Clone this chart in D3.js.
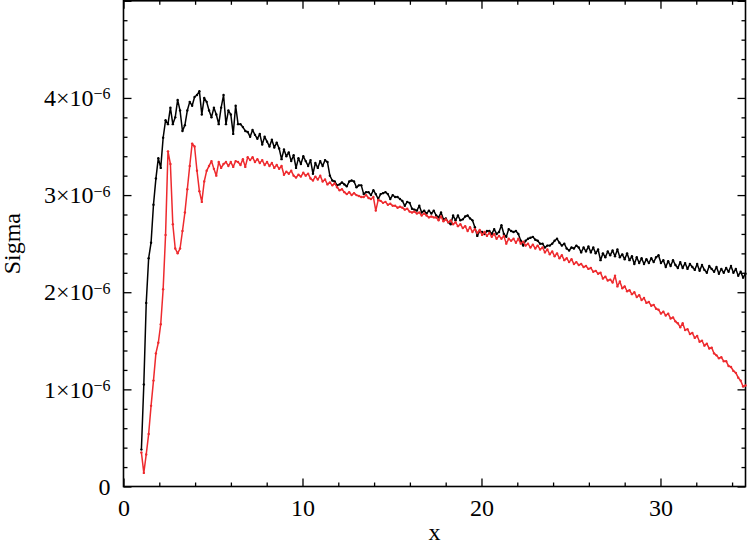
<!DOCTYPE html>
<html><head><meta charset="utf-8">
<script src="https://cdn.jsdelivr.net/npm/d3@7"></script>
<style>
body{margin:0;background:#fff}
svg{display:block}
text{font-family:"Liberation Serif","Times New Roman",serif;fill:#000}
</style>
</head><body>
<svg id="chart" width="747" height="546"></svg>
<script>
// Sigma values in units of 1e-6, sampled on an even x grid starting at xStart
const xStart = 1.0;
const xStep = 0.135;
const sigmaBlack = [
0.38,1.05,1.89,2.35,2.51,2.90,3.17,3.38,3.28,3.59,
3.77,3.73,3.90,3.73,3.80,3.98,3.87,3.66,3.72,3.87,
3.96,3.92,4.01,4.03,4.07,3.83,4.00,3.96,3.87,3.80,
3.90,3.83,3.73,3.90,4.03,3.73,3.87,3.83,3.63,3.92,
3.73,3.73,3.70,3.66,3.65,3.60,3.67,3.62,3.58,3.63,
3.52,3.60,3.55,3.50,3.57,3.49,3.54,3.48,3.37,3.47,
3.40,3.44,3.35,3.41,3.28,3.38,3.32,3.40,3.35,3.30,
3.36,3.22,3.33,3.28,3.35,3.30,3.36,3.34,3.20,3.15,
3.14,3.10,
3.11,3.13,3.11,3.09,3.14,3.15,3.14,3.08,3.10,3.10,
3.01,3.03,3.03,3.00,3.05,3.01,2.96,3.01,3.02,3.03,
3.01,2.96,3.00,2.98,2.98,2.96,2.94,2.89,2.93,2.92,
2.86,2.85,2.84,2.89,2.82,2.84,2.81,2.84,2.81,2.84,
2.79,2.77,2.82,2.75,2.76,2.72,2.70,2.79,2.74,2.79,
2.74,2.75,2.78,2.79,2.76,2.74,2.67,2.58,2.63,2.62,
2.60,2.63,2.63,2.60,2.65,2.60,2.62,2.69,2.60,2.57,
2.65,2.63,2.62,2.63,2.60,2.53,2.48,2.53,2.55,2.56,
2.57,2.54,2.53,2.50,2.50,2.46,2.48,2.48,2.50,2.53,
2.55,2.51,2.48,2.50,2.45,2.43,2.46,2.45,2.48,2.46,
2.41,2.46,2.42,2.47,2.41,2.46,2.40,2.44,2.33,2.40,
2.36,2.42,2.38,2.43,2.37,2.44,2.36,2.39,2.34,2.40,
2.33,2.37,2.29,2.36,2.30,2.35,2.29,2.34,2.30,2.35,
2.31,2.36,2.38,2.30,2.33,2.26,2.32,2.27,2.33,2.28,
2.25,2.31,2.25,2.30,2.24,2.29,2.26,2.23,2.29,2.22,
2.28,2.23,2.20,2.27,2.24,2.21,2.26,2.19,2.24,2.20,
2.25,2.21,2.27,2.20,2.24,2.17,2.21,2.15,2.19
];
const sigmaRed = [
0.35,0.14,0.33,0.54,0.83,1.09,1.37,1.48,1.67,2.03,
2.59,3.45,3.32,2.70,2.45,2.40,2.45,2.63,2.82,3.06,
3.30,3.53,3.50,3.25,3.04,2.93,3.14,3.25,3.30,3.35,
3.27,3.20,3.34,3.28,3.32,3.34,3.30,3.34,3.29,3.35,
3.34,3.31,3.37,3.29,3.39,3.36,3.39,3.34,3.37,3.33,
3.36,3.31,3.34,3.30,3.33,3.28,3.31,3.27,3.30,3.21,
3.24,3.22,3.25,3.20,3.18,3.21,3.19,3.23,3.20,3.22,
3.17,3.15,3.19,3.16,3.20,3.14,3.16,3.11,3.13,3.10,
3.12,3.08,
3.05,3.06,3.03,3.01,3.03,3.00,3.02,3.00,2.99,2.98,
2.98,3.00,2.97,2.96,2.98,2.84,2.95,2.94,2.92,2.93,
2.90,2.91,2.89,2.89,2.87,2.88,2.87,2.85,2.86,2.83,
2.82,2.83,2.81,2.82,2.79,2.81,2.79,2.77,2.78,2.77,
2.77,2.74,2.78,2.73,2.75,2.72,2.74,2.70,2.72,2.68,
2.70,2.66,2.68,2.63,2.67,2.62,2.65,2.61,2.64,2.59,
2.62,2.58,2.61,2.57,2.60,2.55,2.58,2.55,2.58,2.50,
2.55,2.53,2.55,2.51,2.55,2.50,2.52,2.48,2.50,2.46,
2.49,2.45,2.48,2.44,2.46,2.41,2.44,2.39,2.42,2.37,
2.40,2.35,2.38,2.33,2.35,2.31,2.34,2.29,2.31,2.28,
2.29,2.26,2.27,2.24,2.25,2.21,2.22,2.19,2.20,2.14,
2.16,2.12,2.13,2.10,2.17,2.06,2.11,2.04,2.06,2.01,
2.02,1.98,2.00,1.95,1.97,1.92,1.94,1.89,1.90,1.86,
1.87,1.83,1.82,1.78,1.80,1.76,1.78,1.73,1.74,1.70,
1.68,1.64,1.68,1.61,1.62,1.57,1.58,1.53,1.55,1.49,
1.50,1.45,1.47,1.42,1.43,1.37,1.35,1.32,1.33,1.29,
1.29,1.24,1.23,1.19,1.17,1.12,1.09,1.03,1.04
];
const xMajorTicks = [0, 10, 20, 30];
const xMinorTicks = [2,4,6,8,12,14,16,18,22,24,26,28,32,34];
const yMajorTicks = [0, 1, 2, 3, 4, 5];
const yMinorTicks = [0.2,0.4,0.6,0.8,1.2,1.4,1.6,1.8,2.2,2.4,2.6,2.8,3.2,3.4,3.6,3.8,4.2,4.4,4.6,4.8];
const yLabelTicks = [0, 1, 2, 3, 4];
const yExponent = "\u22126";
const xDomain = [0, 34.75];
const yDomain = [0, 5];

const svg = d3.select("#chart");
const L = 123.5, R = 745.5, T = 0.8, B = 486.5;
const x = d3.scaleLinear().domain(xDomain).range([L, R]);
const y = d3.scaleLinear().domain(yDomain).range([B, T]);
const xs = sigmaBlack.map((_, i) => xStart + i * xStep);

function styleAxis(g) {
  g.select(".domain").remove();
  g.selectAll(".tick line").attr("stroke", "#000").attr("stroke-width", 1.3);
}
// bottom
svg.append("g").attr("transform", `translate(0,${B})`)
  .call(d3.axisBottom(x).tickValues(xMinorTicks).tickSize(-4).tickFormat("")).call(styleAxis);
const bx = svg.append("g").attr("transform", `translate(0,${B})`)
  .call(d3.axisBottom(x).tickValues(xMajorTicks).tickSize(-8).tickPadding(12).tickFormat(d3.format("d"))).call(styleAxis);
bx.selectAll("text").attr("font-size", 24).attr("font-family", "Liberation Serif");
// top
svg.append("g").attr("transform", `translate(0,${T})`)
  .call(d3.axisTop(x).tickValues(xMinorTicks).tickSize(-4).tickFormat("")).call(styleAxis);
svg.append("g").attr("transform", `translate(0,${T})`)
  .call(d3.axisTop(x).tickValues(xMajorTicks).tickSize(-8).tickFormat("")).call(styleAxis);
// left
svg.append("g").attr("transform", `translate(${L},0)`)
  .call(d3.axisLeft(y).tickValues(yMinorTicks).tickSize(-4).tickFormat("")).call(styleAxis);
const ly = svg.append("g").attr("transform", `translate(${L},0)`)
  .call(d3.axisLeft(y).tickValues(yLabelTicks).tickSize(-8).tickPadding(13)).call(styleAxis);
svg.append("g").attr("transform", `translate(${L},0)`)
  .call(d3.axisLeft(y).tickValues([5]).tickSize(-8).tickFormat("")).call(styleAxis);
ly.selectAll("text").attr("font-size", 24).attr("font-family", "Liberation Serif")
  .each(function(d) {
    const t = d3.select(this);
    t.text(null);
    if (d === 0) { t.append("tspan").text("0"); return; }
    t.append("tspan").text(d + "×10");
    t.append("tspan").attr("font-size", 16).attr("dy", "-0.42em").text(yExponent);
  });
// right
svg.append("g").attr("transform", `translate(${R},0)`)
  .call(d3.axisRight(y).tickValues(yMinorTicks).tickSize(-4).tickFormat("")).call(styleAxis);
svg.append("g").attr("transform", `translate(${R},0)`)
  .call(d3.axisRight(y).tickValues(yMajorTicks).tickSize(-8).tickFormat("")).call(styleAxis);

// frame
svg.append("rect").attr("x", L).attr("y", T).attr("width", R - L).attr("height", B - T)
  .attr("fill", "none").attr("stroke", "#000").attr("stroke-width", 1.6);

// series
const series = [
  {vals: sigmaBlack, color: "#000000"},
  {vals: sigmaRed, color: "#ee2a2e"}
];
const line = d3.line().x(d => x(d[0])).y(d => y(d[1]));
series.forEach(s => {
  const pts = s.vals.map((v, i) => [xs[i], v]);
  const g = svg.append("g");
  g.append("path").datum(pts).attr("d", line).attr("fill", "none")
    .attr("stroke", s.color).attr("stroke-width", 1.5).attr("stroke-linejoin", "round");
  g.selectAll("circle").data(pts).join("circle")
    .attr("cx", d => x(d[0])).attr("cy", d => y(d[1])).attr("r", 1.2).attr("fill", s.color);
});

// axis titles
svg.append("text").attr("x", (L + R) / 2).attr("y", 540).attr("text-anchor", "middle")
  .attr("font-size", 24).text("x");
svg.append("text").attr("transform", `translate(20,${(T + B) / 2}) rotate(-90)`)
  .attr("text-anchor", "middle").attr("font-size", 24).text("Sigma");
</script>
</body></html>
